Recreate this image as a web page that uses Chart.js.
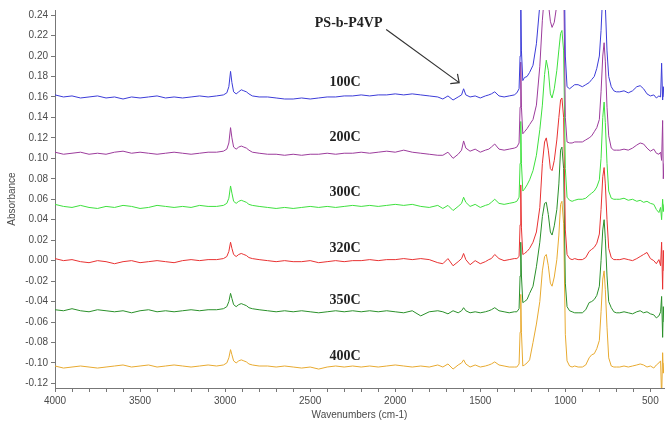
<!DOCTYPE html>
<html>
<head>
<meta charset="utf-8">
<script src="https://cdn.jsdelivr.net/npm/chart.js@4.4.0/dist/chart.umd.min.js"></script>
<style>
  html, body { margin: 0; padding: 0; background: #fff; }
  #wrap { width: 666px; height: 424px; }
</style>
</head>
<body>
<div id="wrap"><canvas id="grafico" width="666" height="424"></canvas></div>
<script>
// wavenumbers (cm-1), denser around the bands
const wavenumbers = [
  4000, 3950, 3900, 3850, 3800, 3750, 3700, 3650, 3600, 3550, 3500, 3450, 3400, 3350, 3300, 3250, 3200, 3150, 3100,
  3050, 3010, 2990, 2978, 2968, 2960, 2950, 2935, 2920, 2905, 2890, 2875, 2860, 2840, 2800,
  2750, 2700, 2650, 2600, 2550, 2500, 2450, 2400, 2350, 2300, 2250, 2200, 2150, 2100, 2050, 2000, 1950, 1900, 1850, 1800, 1750,
  1720, 1690, 1660, 1630, 1610, 1598, 1585, 1560, 1530, 1500, 1470, 1450, 1435, 1415, 1390, 1360, 1330, 1300,
  1285, 1272, 1266, 1262, 1258, 1250, 1240, 1225, 1210,
  1190, 1170, 1150, 1135, 1122, 1112, 1100, 1088, 1078, 1065, 1050, 1038, 1028, 1020, 1010, 1000, 990, 975, 960, 945,
  925, 900, 880, 860, 845, 830, 815, 800, 790, 780, 772, 765, 755, 745, 730, 715, 700,
  680, 655, 630, 605, 580, 560, 540, 520, 500, 480, 465, 450, 440, 434, 428, 424, 420
];

const abs100 = [
  0.162, 0.160, 0.161, 0.159, 0.160, 0.161, 0.159, 0.160, 0.158, 0.160, 0.159, 0.160, 0.161, 0.159, 0.160, 0.159, 0.160, 0.161, 0.160,
  0.161, 0.162, 0.164, 0.170, 0.185, 0.174, 0.165, 0.163, 0.165, 0.167, 0.166, 0.165, 0.163, 0.161, 0.160,
  0.160, 0.159, 0.158, 0.158, 0.159, 0.158, 0.159, 0.160, 0.160, 0.161, 0.161, 0.162, 0.161, 0.162, 0.162, 0.163, 0.162, 0.163, 0.162, 0.161, 0.160,
  0.158, 0.161, 0.157, 0.160, 0.162, 0.168, 0.162, 0.160, 0.161, 0.159, 0.161, 0.162, 0.163, 0.165, 0.161, 0.160, 0.161, 0.162,
  0.164, 0.168, 0.200, 0.260, 0.205, 0.176, 0.179, 0.180, 0.184,
  0.191, 0.212, 0.250, 0.300, 0.330, 0.335, 0.320, 0.295, 0.290, 0.300, 0.320, 0.345, 0.360, 0.362, 0.340, 0.200, 0.170, 0.168, 0.170, 0.172,
  0.172, 0.170, 0.172, 0.174, 0.177, 0.180, 0.188, 0.200, 0.225, 0.262, 0.270, 0.250, 0.205, 0.180, 0.170, 0.166, 0.165,
  0.165, 0.166, 0.164, 0.166, 0.170, 0.171, 0.168, 0.163, 0.161, 0.162, 0.159, 0.161, 0.160, 0.193, 0.157, 0.170, 0.160
];

const abs200 = [
  0.106, 0.104, 0.105, 0.106, 0.104, 0.105, 0.104, 0.106, 0.107, 0.105, 0.106, 0.105, 0.104, 0.105, 0.106, 0.105, 0.104, 0.105, 0.106,
  0.106, 0.107, 0.109, 0.115, 0.130, 0.120, 0.111, 0.109, 0.111, 0.112, 0.111, 0.110, 0.108, 0.106, 0.105,
  0.104, 0.104, 0.103, 0.104, 0.103, 0.104, 0.104, 0.105, 0.104, 0.105, 0.105, 0.106, 0.105, 0.106, 0.107, 0.106, 0.108, 0.106, 0.105, 0.104, 0.103,
  0.103, 0.106, 0.100, 0.104, 0.108, 0.117, 0.110, 0.107, 0.109, 0.106, 0.108, 0.109, 0.111, 0.114, 0.109, 0.108, 0.109, 0.110,
  0.111, 0.115, 0.150, 0.194, 0.150, 0.124, 0.126, 0.129, 0.133,
  0.138, 0.152, 0.190, 0.235, 0.262, 0.270, 0.252, 0.234, 0.228, 0.233, 0.250, 0.280, 0.300, 0.302, 0.280, 0.140, 0.116, 0.115, 0.115, 0.116,
  0.116, 0.116, 0.118, 0.120, 0.122, 0.126, 0.130, 0.138, 0.165, 0.200, 0.213, 0.195, 0.150, 0.122, 0.110, 0.108, 0.108,
  0.108, 0.109, 0.108, 0.110, 0.113, 0.115, 0.114, 0.110, 0.107, 0.109, 0.105, 0.104, 0.106, 0.098, 0.137, 0.080, 0.095
];

const abs300 = [
  0.055, 0.053, 0.052, 0.054, 0.052, 0.051, 0.053, 0.052, 0.054, 0.053, 0.051, 0.052, 0.054, 0.053, 0.052, 0.053, 0.052, 0.054, 0.053,
  0.053, 0.054, 0.056, 0.061, 0.073, 0.066, 0.058, 0.056, 0.058, 0.059, 0.058, 0.057, 0.055, 0.054, 0.053,
  0.052, 0.051, 0.052, 0.051, 0.052, 0.053, 0.052, 0.053, 0.052, 0.053, 0.054, 0.053, 0.054, 0.053, 0.054, 0.055, 0.054, 0.055, 0.053, 0.052, 0.054,
  0.051, 0.054, 0.049, 0.053, 0.056, 0.062, 0.057, 0.053, 0.055, 0.052, 0.054, 0.055, 0.057, 0.060, 0.056, 0.055, 0.056, 0.057,
  0.058, 0.062, 0.095, 0.136, 0.095, 0.068, 0.070, 0.074, 0.079,
  0.088, 0.103, 0.128, 0.152, 0.182, 0.196, 0.186, 0.163, 0.159, 0.168, 0.186, 0.206, 0.222, 0.225, 0.205, 0.090, 0.062, 0.059, 0.058, 0.059,
  0.060, 0.060, 0.061, 0.064, 0.066, 0.068, 0.072, 0.079, 0.100, 0.140, 0.155, 0.135, 0.095, 0.068, 0.061, 0.060, 0.060,
  0.060, 0.061, 0.059, 0.060, 0.058, 0.059, 0.057, 0.058, 0.056, 0.055, 0.050, 0.047, 0.052, 0.040, 0.060, 0.048, 0.055
];

const abs320 = [
  0.002, 0.000, 0.001, -0.001, -0.002, 0.000, -0.001, -0.003, -0.001, 0.000, -0.002, -0.001, 0.000, -0.001, -0.002, 0.000, 0.001, 0.000, 0.001,
  0.001, 0.002, 0.004, 0.009, 0.018, 0.012, 0.006, 0.004, 0.006, 0.007, 0.006, 0.005, 0.003, 0.002, 0.001,
  0.000, -0.001, 0.000, -0.001, -0.001, 0.000, -0.002, -0.001, 0.000, -0.001, 0.000, 0.000, 0.001, 0.000, 0.001, 0.001, 0.002, 0.001, 0.002, 0.001, -0.002,
  -0.003, 0.002, -0.005, -0.001, 0.002, 0.007, 0.001, -0.004, 0.000, -0.003, -0.001, 0.001, 0.002, 0.006, 0.002, 0.000, 0.001, 0.002,
  0.002, 0.004, 0.035, 0.074, 0.032, 0.006, 0.007, 0.009, 0.012,
  0.018, 0.028, 0.052, 0.095, 0.116, 0.120, 0.108, 0.090, 0.088, 0.098, 0.118, 0.140, 0.157, 0.159, 0.140, 0.030, 0.006, 0.002, 0.001, 0.002,
  0.001, 0.001, 0.003, 0.009, 0.011, 0.013, 0.017, 0.026, 0.050, 0.082, 0.091, 0.075, 0.040, 0.012, 0.003, 0.001, 0.001,
  0.001, 0.002, 0.001, 0.000, 0.002, 0.004, 0.006, 0.008, 0.002, 0.000, -0.003, 0.001, -0.005, 0.018, -0.028, 0.010, -0.010
];

const abs350 = [
  -0.048, -0.049, -0.047, -0.049, -0.050, -0.048, -0.049, -0.050, -0.049, -0.051, -0.049, -0.048, -0.050, -0.049, -0.050, -0.049, -0.048, -0.049, -0.048,
  -0.048, -0.047, -0.045, -0.040, -0.032, -0.037, -0.043, -0.045, -0.043, -0.042, -0.043, -0.044, -0.046, -0.047, -0.048,
  -0.049, -0.050, -0.049, -0.050, -0.049, -0.050, -0.051, -0.050, -0.049, -0.050, -0.049, -0.050, -0.049, -0.050, -0.049, -0.050, -0.051, -0.049, -0.054, -0.050, -0.049,
  -0.050, -0.052, -0.049, -0.051, -0.049, -0.046, -0.049, -0.051, -0.050, -0.051, -0.050, -0.049, -0.048, -0.046, -0.049, -0.050, -0.051, -0.050,
  -0.050, -0.047, -0.015, 0.018, -0.015, -0.041, -0.040, -0.038, -0.032,
  -0.025, -0.006, 0.018, 0.043, 0.056, 0.057, 0.045, 0.028, 0.025, 0.034, 0.050, 0.075, 0.108, 0.111, 0.090, -0.022, -0.045, -0.049, -0.050, -0.051,
  -0.051, -0.051, -0.048, -0.041, -0.040, -0.038, -0.034, -0.025, 0.000, 0.030, 0.040, 0.022, -0.015, -0.040, -0.046, -0.050, -0.051,
  -0.051, -0.050, -0.051, -0.052, -0.050, -0.049, -0.051, -0.050, -0.052, -0.053, -0.056, -0.054, -0.050, -0.035, -0.075, -0.045, -0.060
];

const abs400 = [
  -0.103, -0.105, -0.104, -0.103, -0.104, -0.105, -0.104, -0.103, -0.102, -0.104, -0.103, -0.102, -0.104, -0.103, -0.102, -0.103, -0.104, -0.103, -0.102,
  -0.103, -0.102, -0.100, -0.095, -0.087, -0.092, -0.098, -0.100, -0.098, -0.097, -0.098, -0.099, -0.101, -0.102, -0.103,
  -0.103, -0.104, -0.103, -0.104, -0.105, -0.104, -0.106, -0.104, -0.103, -0.104, -0.103, -0.104, -0.103, -0.104, -0.103, -0.102, -0.103, -0.104, -0.103, -0.104, -0.102,
  -0.104, -0.101, -0.106, -0.102, -0.100, -0.097, -0.101, -0.104, -0.102, -0.104, -0.103, -0.102, -0.101, -0.099, -0.102, -0.103, -0.104, -0.104,
  -0.104, -0.101, -0.070, -0.033, -0.070, -0.103, -0.102, -0.100, -0.097,
  -0.080, -0.062, -0.040, -0.010, 0.004, 0.006, -0.005, -0.022, -0.025, -0.016, 0.001, 0.025, 0.055, 0.058, 0.036, -0.072, -0.098, -0.103, -0.104, -0.103,
  -0.104, -0.104, -0.102, -0.095, -0.092, -0.091, -0.086, -0.078, -0.050, -0.018, -0.010, -0.028, -0.065, -0.095, -0.103, -0.104, -0.104,
  -0.104, -0.103, -0.104, -0.103, -0.102, -0.101, -0.102, -0.104, -0.103, -0.105, -0.102, -0.100, -0.098, -0.135, -0.090, -0.110, -0.100
];

const nomesSeries = ['100C', '200C', '300C', '320C', '350C', '400C'];
const espectros = [abs100, abs200, abs300, abs320, abs350, abs400];
const cores = ['#3c3cd8', '#9c3c9c', '#3ee03e', '#e83232', '#2a902a', '#e8aa30'];

// labels beside each trace (wavenumber, absorbance)
const rotuloX = 2295;
const rotuloY = [0.1746, 0.120, 0.0663, 0.0117, -0.039, -0.0937];
const anotacao = 'PS-b-P4VP';
const anotacaoPos = [2075, 0.232];
const setaDe = [2053, 0.226];
const setaPara = [1624, 0.174];

const xMarcas = [4000, 3500, 3000, 2500, 2000, 1500, 1000, 500];

const rotulos = {
  id: 'rotulos',
  afterDatasetsDraw(chart) {
    const { ctx, scales: { x, y } } = chart;
    ctx.save();
    ctx.font = 'bold 14px "Liberation Serif", "Times New Roman", serif';
    ctx.fillStyle = '#222';
    ctx.textBaseline = 'middle';
    ctx.textAlign = 'center';
    nomesSeries.forEach((nome, i) => {
      ctx.fillText(nome, x.getPixelForValue(rotuloX), y.getPixelForValue(rotuloY[i]));
    });
    ctx.textAlign = 'right';
    ctx.fillText(anotacao, x.getPixelForValue(anotacaoPos[0]), y.getPixelForValue(anotacaoPos[1]));

    const x1 = x.getPixelForValue(setaDe[0]), y1 = y.getPixelForValue(setaDe[1]);
    const x2 = x.getPixelForValue(setaPara[0]), y2 = y.getPixelForValue(setaPara[1]);
    const ang = Math.atan2(y2 - y1, x2 - x1);
    ctx.strokeStyle = '#333';
    ctx.lineWidth = 1.2;
    ctx.beginPath();
    ctx.moveTo(x1, y1);
    ctx.lineTo(x2, y2);
    ctx.moveTo(x2 - 9 * Math.cos(ang - 0.75), y2 - 9 * Math.sin(ang - 0.75));
    ctx.lineTo(x2, y2);
    ctx.lineTo(x2 - 9 * Math.cos(ang + 0.75), y2 - 9 * Math.sin(ang + 0.75));
    ctx.stroke();
    ctx.restore();
  }
};

const fonteEixo = { family: '"Liberation Sans", Arial, sans-serif', size: 10 };

const ctx = document.getElementById('grafico').getContext('2d');
const grafico = new Chart(ctx, {
  type: 'line',
  data: {
    datasets: espectros.map((serie, i) => ({
      label: nomesSeries[i],
      data: wavenumbers.map((w, j) => ({ x: w, y: serie[j] })),
      borderColor: cores[i],
      borderWidth: 1,
      pointRadius: 0,
      fill: false,
      tension: 0
    }))
  },
  options: {
    responsive: false,
    animation: false,
    devicePixelRatio: 1,
    layout: { padding: { top: 10, right: 2, left: 0, bottom: 0 } },
    plugins: {
      legend: { display: false },
      tooltip: { enabled: false }
    },
    scales: {
      x: {
        type: 'linear',
        reverse: true,
        min: 420,
        max: 4000,
        afterFit: (scale) => { scale.height = 36; },
        border: { display: true, color: '#777', width: 1 },
        grid: { drawOnChartArea: false, drawTicks: true, tickLength: 4, color: '#777' },
        ticks: {
          stepSize: 100,
          includeBounds: false,
          autoSkip: false,
          maxRotation: 0,
          padding: 3,
          color: '#4a4a4a',
          font: fonteEixo,
          callback: (v) => xMarcas.includes(v) ? String(v) : ''
        },
        title: {
          display: true,
          text: 'Wavenumbers (cm-1)',
          color: '#4a4a4a',
          font: fonteEixo,
          padding: { top: 0, bottom: 3 }
        }
      },
      y: {
        min: -0.1245,
        max: 0.245,
        afterFit: (scale) => { scale.width = 55; },
        border: { display: true, color: '#777', width: 1, dash: [1, 2] },
        grid: { drawOnChartArea: false, drawTicks: true, tickLength: 4, color: '#777' },
        ticks: {
          stepSize: 0.02,
          includeBounds: false,
          padding: 3,
          color: '#4a4a4a',
          font: fonteEixo,
          callback: (v) => Math.abs(v) < 1e-9 ? '0.00' : v.toFixed(2)
        },
        title: {
          display: true,
          text: 'Absorbance',
          color: '#4a4a4a',
          font: fonteEixo,
          padding: { top: 6, bottom: 0 }
        }
      }
    }
  },
  plugins: [rotulos]
});
</script>
</body>
</html>
